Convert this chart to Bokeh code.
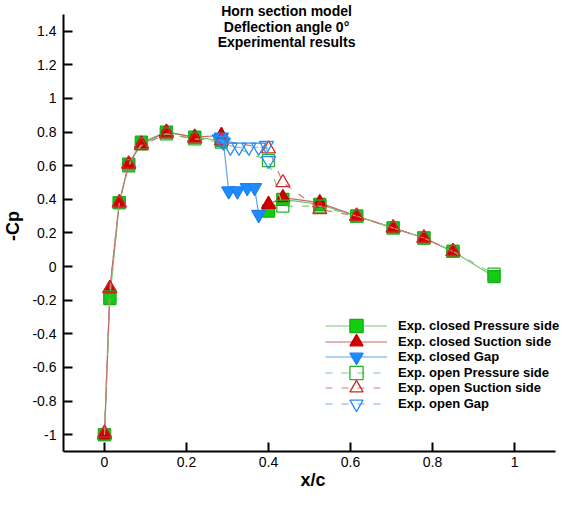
from bokeh.plotting import figure
from bokeh.models import (Range1d, FixedTicker, CustomJSTickFormatter, Legend,
                          LegendItem, Label)
from bokeh.embed import file_html
from bokeh.resources import INLINE

# ---------------- data ----------------
x_closed_pressure = [0.0, 0.013, 0.036, 0.059, 0.09, 0.151, 0.22, 0.285, 0.40, 0.435, 0.525, 0.615, 0.704, 0.779, 0.85, 0.95]
cp_closed_pressure = [-1.0, -0.19, 0.38, 0.61, 0.74, 0.80, 0.77, 0.75, 0.33, 0.40, 0.37, 0.30, 0.23, 0.17, 0.09, -0.06]

x_closed_suction = [0.0, 0.013, 0.036, 0.059, 0.09, 0.151, 0.22, 0.285, 0.40, 0.435, 0.525, 0.615, 0.704, 0.779, 0.85]
cp_closed_suction = [-1.0, -0.13, 0.38, 0.61, 0.73, 0.80, 0.77, 0.78, 0.37, 0.41, 0.38, 0.30, 0.23, 0.17, 0.09]

x_closed_gap = [0.280, 0.285, 0.290, 0.303, 0.324, 0.348, 0.366, 0.376]
cp_closed_gap = [0.76, 0.77, 0.74, 0.45, 0.45, 0.47, 0.47, 0.31]

x_open_pressure = [0.0, 0.013, 0.036, 0.059, 0.09, 0.151, 0.22, 0.285, 0.40, 0.435, 0.525, 0.615, 0.704, 0.779, 0.85, 0.95]
cp_open_pressure = [-1.0, -0.18, 0.38, 0.60, 0.73, 0.79, 0.76, 0.74, 0.63, 0.36, 0.36, 0.30, 0.23, 0.17, 0.09, -0.045]

x_open_suction = [0.0, 0.013, 0.036, 0.059, 0.09, 0.151, 0.22, 0.285, 0.40, 0.435, 0.525, 0.615, 0.704, 0.779, 0.85]
cp_open_suction = [-0.99, -0.13, 0.38, 0.61, 0.72, 0.79, 0.76, 0.75, 0.70, 0.50, 0.34, 0.30, 0.23, 0.17, 0.09]

x_open_gap = [0.285, 0.307, 0.328, 0.352, 0.376, 0.395, 0.40]
cp_open_gap = [0.75, 0.71, 0.71, 0.71, 0.71, 0.72, 0.63]

series_labels = ["Exp. closed Pressure side", "Exp. closed Suction side", "Exp. closed Gap",
                 "Exp. open Pressure side", "Exp. open Suction side", "Exp. open Gap"]

x_ticks = [0, 0.2, 0.4, 0.6, 0.8, 1.0]
y_ticks = [-1, -0.8, -0.6, -0.4, -0.2, 0, 0.2, 0.4, 0.6, 0.8, 1.0, 1.2, 1.4]

title_lines = ["Horn section model", "Deflection angle 0\u00b0", "Experimental results"]

# ---------------- figure ----------------
FONT = "Liberation Sans"

p = figure(width=562, height=492, output_backend="svg", toolbar_location=None,
           x_range=Range1d(-0.1, 1.117), y_range=Range1d(-1.1, 1.583),
           min_border_left=63, min_border_right=0, min_border_top=0, min_border_bottom=0)
p.grid.visible = False
p.outline_line_color = None
p.background_fill_color = "white"
p.border_fill_color = "white"

fmt = CustomJSTickFormatter(code="return Number(tick.toFixed(2)).toString();")
for ax, ticks, lab, bnds in ((p.xaxis[0], x_ticks, "x/c", (-0.1, 1.1)),
                             (p.yaxis[0], y_ticks, "-Cp", (-1.1, 1.5))):
    ax.ticker = FixedTicker(ticks=ticks)
    ax.formatter = fmt
    ax.bounds = bnds
    ax.major_tick_in = 9
    ax.major_tick_out = 0
    ax.minor_tick_in = 0
    ax.minor_tick_out = 0
    ax.axis_line_width = 2
    ax.major_tick_line_width = 2
    ax.axis_line_color = "black"
    ax.major_tick_line_color = "black"
    ax.major_label_text_font = FONT
    ax.major_label_text_font_size = "14px"
    ax.major_label_text_color = "black"
    ax.axis_label = lab
    ax.axis_label_text_font = FONT
    ax.axis_label_text_font_style = "bold"
    ax.axis_label_text_font_size = "18px"
    ax.axis_label_text_color = "black"
p.xaxis[0].major_label_standoff = 5
p.xaxis[0].axis_label_standoff = 0
p.yaxis[0].major_label_standoff = 7
p.yaxis[0].axis_label_standoff = 6

GREEN = "#14cc14"
RED = "#d00000"
BLUE = "#1e8cff"

# (x, y, line colour, dash, marker, fill, fill alpha, marker edge, size, break line at gap)
specs = [
    (x_closed_pressure, cp_closed_pressure, "#74c874", None, "square", GREEN, 1.0, "#10b010", 12, True),
    (x_closed_suction, cp_closed_suction, "#c86a6a", None, "triangle", RED, 1.0, "#c00000", 14, True),
    (x_closed_gap, cp_closed_gap, "#5aa4ec", None, "inverted_triangle", BLUE, 1.0, "#1a80f0", 14, False),
    (x_open_pressure, cp_open_pressure, "#80cc80", "7 9", "square", GREEN, 0.0, "#22b422", 12, False),
    (x_open_suction, cp_open_suction, "#d07a7a", "7 9", "triangle", RED, 0.0, "#cc2a2a", 14, False),
    (x_open_gap, cp_open_gap, "#6aacf0", "7 9", "inverted_triangle", BLUE, 0.0, "#2a8cf0", 14, False),
]

legend_bottoms = [109, 93, 78, 62, 47, 31]

for (xs, ys, lcol, dash, marker, fcol, falpha, mline, msize, split), label, vy in zip(specs, series_labels, legend_bottoms):
    kw = dict(line_color=lcol, line_width=1.2)
    if dash:
        kw["line_dash"] = dash
    if split:
        k = next(i for i, xv in enumerate(xs) if xv > 0.3)
        lr = p.line(xs[:k], ys[:k], **kw)
        p.line(xs[k:], ys[k:], **kw)
    else:
        lr = p.line(xs, ys, **kw)
    sr = p.scatter(xs, ys, marker=marker, size=msize, fill_color=fcol, fill_alpha=falpha,
                   line_color=mline, line_width=1.3)
    leg = Legend(items=[LegendItem(label=label, renderers=[lr, sr])], location=(262, vy),
                 glyph_width=62, glyph_height=33, spacing=0, padding=0, margin=0,
                 label_standoff=11, label_text_font=FONT, label_text_font_style="bold",
                 label_text_font_size="13px", label_text_color="black",
                 border_line_alpha=0, background_fill_alpha=0)
    p.add_layout(leg)

for txt, yv in zip(title_lines, [1.518, 1.423, 1.339]):
    p.add_layout(Label(x=0.444, y=yv, text=txt, text_align="center", text_baseline="middle",
                       text_font=FONT, text_font_style="bold", text_font_size="14px",
                       text_color="black"))

open("out.html", "w").write(file_html(p, INLINE))
